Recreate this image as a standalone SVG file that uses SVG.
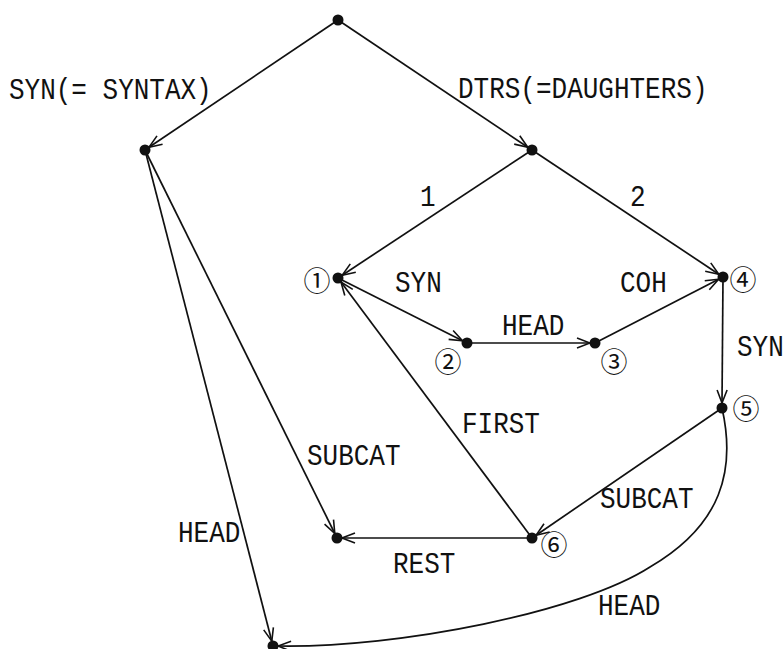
<svg xmlns="http://www.w3.org/2000/svg" width="784" height="649" viewBox="0 0 784 649">
  <defs>
    <style>
      .edge { fill: none; stroke: #111; stroke-width: 1.7; marker-end: url(#arrow); }
      .dot { fill: #111; }
      .lbl { font-family: "Liberation Mono", "Courier New", monospace; font-size: 26px; fill: #111; }
      .num { font-family: "Noto Sans CJK JP", "DejaVu Sans", sans-serif; font-size: 27px; fill: #111; text-anchor: middle; dominant-baseline: central; }
    </style>
    <marker id="arrow" markerUnits="userSpaceOnUse" markerWidth="16" markerHeight="14" viewBox="-14 -7 15 14" refX="0" refY="0" orient="auto">
      <path d="M-13,-5 L0,0 L-13,5" fill="none" stroke="#111" stroke-width="1.6"/>
    </marker>
  </defs>
  <rect width="784" height="649" fill="#ffffff"/>

  <!-- connectors -->
  <g id="edges">
    <line class="edge" x1="338" y1="20" x2="149" y2="147.3"/>
    <line class="edge" x1="338" y1="20" x2="527.8" y2="147.2"/>
    <line class="edge" x1="532" y1="150" x2="342.2" y2="275.2"/>
    <line class="edge" x1="532" y1="150" x2="718.8" y2="274.2"/>
    <line class="edge" x1="338" y1="278" x2="462.5" y2="340.8"/>
    <line class="edge" x1="467" y1="343" x2="590" y2="343"/>
    <line class="edge" x1="595" y1="343" x2="718.6" y2="279.3"/>
    <line class="edge" x1="723" y1="277" x2="722" y2="403"/>
    <line class="edge" x1="722" y1="408" x2="536.1" y2="535.2"/>
    <line class="edge" x1="532" y1="538" x2="341" y2="282"/>
    <line class="edge" x1="532" y1="538" x2="342" y2="538"/>
    <line class="edge" x1="145" y1="150" x2="334.8" y2="533.5"/>
    <line class="edge" x1="145" y1="150" x2="271.8" y2="641.2"/>
    <path class="edge" d="M722,408 C736,470 722,525 650,567 C580,612 400,648 278,646"/>
  </g>

  <!-- edge labels (typewriter face, slightly tall) -->
  <g id="labels">
    <text class="lbl" transform="translate(9 99) scale(1 1.15)">SYN(= SYNTAX)</text>
    <text class="lbl" transform="translate(458 98) scale(1 1.15)">DTRS(=DAUGHTERS)</text>
    <text class="lbl" transform="translate(420 206) scale(1 1.15)">1</text>
    <text class="lbl" transform="translate(630 206) scale(1 1.15)">2</text>
    <text class="lbl" transform="translate(395 292) scale(1 1.15)">SYN</text>
    <text class="lbl" transform="translate(502 335) scale(1 1.15)">HEAD</text>
    <text class="lbl" transform="translate(620 292) scale(1 1.15)">COH</text>
    <text class="lbl" transform="translate(737 356) scale(1 1.15)">SYN</text>
    <text class="lbl" transform="translate(462 433) scale(1 1.15)">FIRST</text>
    <text class="lbl" transform="translate(307 465) scale(1 1.15)">SUBCAT</text>
    <text class="lbl" transform="translate(600 508) scale(1 1.15)">SUBCAT</text>
    <text class="lbl" transform="translate(393 573) scale(1 1.15)">REST</text>
    <text class="lbl" transform="translate(178 542) scale(1 1.15)">HEAD</text>
    <text class="lbl" transform="translate(598 615) scale(1 1.15)">HEAD</text>
  </g>

  <!-- nodes -->
  <g id="node-root"><circle class="dot" cx="338" cy="20" r="5.5"/></g>
  <g id="node-syn"><circle class="dot" cx="145" cy="150" r="5.5"/></g>
  <g id="node-dtrs"><circle class="dot" cx="532" cy="150" r="5.5"/></g>
  <g id="node-1"><circle class="dot" cx="338" cy="278" r="5.5"/><text class="num" x="317" y="279">①</text></g>
  <g id="node-2"><circle class="dot" cx="467" cy="343" r="5.5"/><text class="num" x="448" y="360">②</text></g>
  <g id="node-3"><circle class="dot" cx="595" cy="343" r="5.5"/><text class="num" x="614" y="360">③</text></g>
  <g id="node-4"><circle class="dot" cx="723" cy="277" r="5.5"/><text class="num" x="743" y="278">④</text></g>
  <g id="node-5"><circle class="dot" cx="722" cy="408" r="5.5"/><text class="num" x="746" y="407">⑤</text></g>
  <g id="node-6"><circle class="dot" cx="532" cy="538" r="5.5"/><text class="num" x="554" y="543">⑥</text></g>
  <g id="node-rest"><circle class="dot" cx="337" cy="538" r="5.5"/></g>
  <g id="node-head"><circle class="dot" cx="273" cy="646" r="5.5"/></g>
</svg>
